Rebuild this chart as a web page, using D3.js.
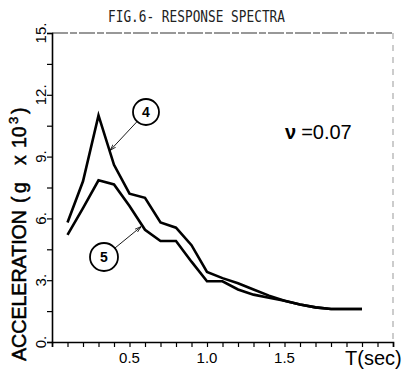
<!DOCTYPE html>
<html><head><meta charset="utf-8">
<script src="https://cdn.jsdelivr.net/npm/d3@7"></script>
<style>
html,body{margin:0;padding:0;background:#fff;}
svg{display:block;}
</style></head>
<body>
<svg id="c" width="404" height="372"></svg>
<script>
const periods = [0.1,0.2,0.3,0.4,0.5,0.6,0.7,0.8,0.9,1.0,1.1,1.2,1.3,1.4,1.5,1.6,1.7,1.8,1.9,2.0];
const curve4 = [5.8,7.8,11.0,8.6,7.2,7.0,5.8,5.55,4.7,3.4,3.1,2.85,2.55,2.25,2.0,1.82,1.68,1.6,1.6,1.6];
const curve5 = [5.2,6.5,7.85,7.65,6.6,5.45,4.9,4.9,3.9,2.95,2.95,2.55,2.3,2.15,2.0,1.82,1.68,1.6,1.6,1.6];
const yTickLabels = ["0.","3.","6.","9.","12.","15."];
const yLabelValues = [0,3,6,9,12,15];
const xTickLabels = ["0.5","1.0","1.5"];
const xLabelValues = [0.5,1.0,1.5];
const title = "FIG.6- RESPONSE SPECTRA";
const dampingText = "=0.07";

const svg = d3.select("#c");
const x = d3.scaleLinear().domain([0,2.2]).range([52,393]);
const y = d3.scaleLinear().domain([0,15]).range([342,33]);

// title
svg.append("text").attr("x",108).attr("y",22)
  .attr("font-family","DejaVu Sans Mono").attr("font-size",15.5)
  .attr("textLength",177).attr("lengthAdjust","spacingAndGlyphs")
  .attr("fill","#222").text(title);

// frame top and right (faint)
svg.append("line").attr("x1",x(0)).attr("x2",x(2.2)).attr("y1",y(15)).attr("y2",y(15))
  .attr("stroke","#333").attr("stroke-width",1.2).attr("stroke-dasharray","16,2,7,2");
svg.append("line").attr("x1",x(2.2)).attr("x2",x(2.2)).attr("y1",y(15)).attr("y2",y(0))
  .attr("stroke","#999").attr("stroke-width",1).attr("stroke-dasharray","6,6");

// left axis
const yAxis = d3.axisLeft(y).tickValues(d3.range(0,15.01,1.5)).tickSize(5).tickFormat("");
const gy = svg.append("g").attr("transform",`translate(${x(0)},0)`).call(yAxis);
gy.select(".domain").attr("stroke","#000").attr("stroke-width",1.6);
gy.selectAll(".tick line").attr("stroke","#000").attr("stroke-width",1.2);

// bottom axis
const xAxis = d3.axisBottom(x).tickValues(d3.range(0,2.201,0.1)).tickSize(5).tickFormat("");
const gx = svg.append("g").attr("transform",`translate(0,${y(0)})`).call(xAxis);
gx.select(".domain").attr("stroke","#000").attr("stroke-width",1.6);
gx.selectAll(".tick line").attr("stroke","#000").attr("stroke-width",1.2);

// y tick labels (rotated)
svg.selectAll(".ylab").data(yLabelValues).enter().append("text")
  .attr("class","ylab")
  .attr("transform",d=>`translate(46,${y(d)}) rotate(-90)`)
  .attr("text-anchor","middle")
  .attr("font-family","Liberation Sans, Arial").attr("font-size",15)
  .text((d,i)=>yTickLabels[i]);

// x tick labels
svg.selectAll(".xlab").data(xLabelValues).enter().append("text")
  .attr("class","xlab")
  .attr("x",d=>x(d)).attr("y",363)
  .attr("text-anchor","middle")
  .attr("font-family","Liberation Sans, Arial").attr("font-size",15)
  .text((d,i)=>xTickLabels[i]);

// x axis title
svg.append("text").attr("x",345).attr("y",365)
  .attr("font-family","Liberation Sans, Arial").attr("font-size",20)
  .text("T(sec)");

// y axis title
const yt = svg.append("text").attr("transform","translate(26,0) rotate(-90)")
  .attr("font-family","Liberation Sans, Arial").attr("font-size",19.5)
  .attr("stroke","#000").attr("stroke-width",0.5);
yt.append("tspan").attr("x",-361).attr("textLength",151).attr("lengthAdjust","spacingAndGlyphs").text("ACCELERATION");
yt.append("tspan").attr("x",-203).text("(");
yt.append("tspan").attr("x",-193).text("g");
yt.append("tspan").attr("x",-165).text("x");
yt.append("tspan").attr("x",-148).text("10");
yt.append("tspan").attr("x",-124).attr("dy",-8).attr("font-size",13).text("3");
yt.append("tspan").attr("x",-114).attr("dy",8).text(")");

// curves
const line = d3.line().x(d=>x(d[0])).y(d=>y(d[1]));
[curve4,curve5].forEach(vals=>{
  svg.append("path").datum(periods.map((p,i)=>[p,vals[i]]))
    .attr("d",line).attr("fill","none").attr("stroke","#000")
    .attr("stroke-width",2.6).attr("stroke-linejoin","miter");
});

// labels 4 and 5 with leaders
svg.append("defs").append("marker").attr("id","ar").attr("viewBox","0 0 10 10")
  .attr("refX",10).attr("refY",5).attr("markerWidth",7).attr("markerHeight",7)
  .attr("orient","auto").append("path").attr("d","M0,2 L10,5 L0,8").attr("fill","none").attr("stroke","#000").attr("stroke-width",1.2);

function tag(cx,cy,r,lbl,x2,y2){
  const ang = Math.atan2(y2-cy,x2-cx);
  svg.append("line").attr("x1",cx+r*Math.cos(ang)).attr("y1",cy+r*Math.sin(ang))
    .attr("x2",x2).attr("y2",y2).attr("stroke","#000").attr("stroke-width",0.9)
    .attr("marker-end","url(#ar)");
  svg.append("circle").attr("cx",cx).attr("cy",cy).attr("r",r)
    .attr("fill","#fff").attr("stroke","#000").attr("stroke-width",1.8);
  svg.append("text").attr("x",cx).attr("y",cy+5).attr("text-anchor","middle")
    .attr("font-family","Liberation Sans Narrow, Liberation Sans, Arial").attr("font-weight","bold")
    .attr("font-size",14).text(lbl);
}
tag(146,112,13,"4",x(0.375),y(9.3));
tag(104,257,14,"5",x(0.575),y(5.6));

// damping
const dt = svg.append("text").attr("x",285).attr("y",139)
  .attr("font-family","Liberation Sans, Arial").attr("font-size",20);
dt.append("tspan").attr("font-weight","bold").text("ν");
dt.append("tspan").attr("dx",5).text(dampingText);
</script>
</body></html>
